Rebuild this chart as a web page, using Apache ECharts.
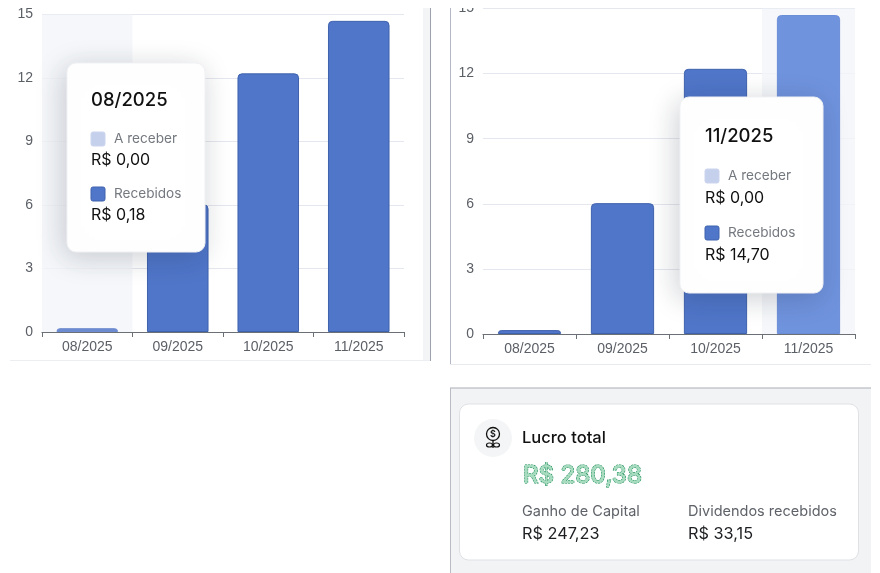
<!DOCTYPE html>
<html>
<head>
<meta charset="utf-8">
<style>html,body{margin:0;padding:0;background:#fff}#main{width:880px;height:573px}</style>
<script src="https://cdn.jsdelivr.net/npm/echarts@6/dist/echarts.min.js"></script>
</head>
<body>
<div id="main"></div>
<script>
// Monthly dividends, shown twice with a different month highlighted
const months = ['08/2025', '09/2025', '10/2025', '11/2025'];
const pending = [0, 0, 0, 0];
const received = [0.18, 6.03, 12.22, 14.7];
const yTicks = { min: 0, max: 15, interval: 3 };
const activeLeft = 0;
const activeRight = 3;

// Profit summary card
const profitTotal = 280.38;
const capitalGain = 247.23;
const dividends = 33.15;

const FONT = 'Inter, "Noto Sans", sans-serif';
const AXIS_FONT = '"Liberation Sans", Arial, sans-serif';
const BLUE = '#5076c9';
const BLUE_EDGE = '#3f62ad';
const PALE = '#c5d0ec';
const brl = v => 'R$ ' + v.toFixed(2).replace('.', ',');

function axes(idx) {
  return {
    x: {
      type: 'category', gridIndex: idx, data: months,
      axisLine: { lineStyle: { color: '#6b6f76', width: 1.2 } },
      axisTick: { show: true, length: 5, alignWithLabel: false, lineStyle: { color: '#6b6f76' } },
      axisLabel: { color: '#5b5f66', fontFamily: AXIS_FONT, fontSize: 14, margin: 8 },
      splitLine: { show: false }
    },
    y: {
      type: 'value', gridIndex: idx, min: yTicks.min, max: yTicks.max, interval: yTicks.interval,
      axisLine: { show: false }, axisTick: { show: false },
      axisLabel: { color: '#5b5f66', fontFamily: AXIS_FONT, fontSize: 14, margin: 9 },
      splitLine: { lineStyle: { color: '#e5e7ee', width: 1.2 } }
    }
  };
}

function seriesFor(idx, active, activeColor, activeEdge) {
  return [
    {
      // Full-width column behind the hovered month
      type: 'custom', name: 'destaque', xAxisIndex: idx, yAxisIndex: idx, silent: true, z: 1,
      data: months.map((m, i) => (i === active ? [i, yTicks.max] : [i, null])),
      encode: { x: 0, y: 1 },
      renderItem(params, api) {
        const v = api.value(1);
        if (v === null || isNaN(v)) return null;
        const top = api.coord([api.value(0), v]);
        const base = api.coord([api.value(0), yTicks.min]);
        const w = api.size([1, 0])[0];
        return {
          type: 'rect',
          shape: { x: top[0] - w / 2, y: top[1], width: w, height: base[1] - top[1] },
          style: { fill: 'rgba(243,245,249,0.8)' }
        };
      }
    },
    {
      type: 'bar', name: 'A receber', stack: 's' + idx, xAxisIndex: idx, yAxisIndex: idx,
      barWidth: '68%', z: 2, itemStyle: { color: PALE }, data: pending
    },
    {
      type: 'bar', name: 'Recebidos', stack: 's' + idx, xAxisIndex: idx, yAxisIndex: idx,
      barWidth: '68%', z: 2,
      data: received.map((v, i) => ({
        value: v,
        itemStyle: {
          color: i === active ? activeColor : BLUE,
          borderColor: i === active ? activeEdge : BLUE_EDGE,
          borderWidth: 1,
          borderRadius: [4, 4, 0, 0]
        }
      }))
    }
  ];
}

function label(x, y, text, size, fill, weight) {
  return {
    type: 'text', z: 101, x, y,
    style: { text, fill, fontFamily: FONT, fontSize: size, fontWeight: weight || 400, textVerticalAlign: 'middle' }
  };
}

// Floating month detail box
function detailBox(b, i) {
  const swatch = (y, color, edge) => ({
    type: 'rect', z: 101, shape: { x: b.tx, y, width: 14, height: 14, r: 2 },
    style: { fill: color, stroke: edge, lineWidth: 1 }
  });
  return [
    {
      type: 'rect', z: 100, shape: { x: b.x, y: b.y, width: b.w, height: b.h, r: 9 },
      style: { fill: '#fff', stroke: '#f0f1f4', lineWidth: 1, shadowBlur: 28, shadowColor: 'rgba(30,40,60,0.22)', shadowOffsetX: -3, shadowOffsetY: 5 }
    },
    label(b.tx, b.y + b.title, months[i], 18.5, '#111', 500),
    swatch(b.y + b.s1, PALE, '#ccd5ee'),
    label(b.tx + 23, b.y + b.s1 + 7, 'A receber', 13.6, '#74787f'),
    label(b.tx, b.y + b.v1, brl(pending[i]), 16, '#111'),
    swatch(b.y + b.s2, BLUE, BLUE_EDGE),
    label(b.tx + 23, b.y + b.s2 + 7, 'Recebidos', 13.6, '#74787f'),
    label(b.tx, b.y + b.v2, brl(received[i]), 16, '#111')
  ];
}

function rule(x1, y1, x2, y2, color, w) {
  return { type: 'line', z: 60, shape: { x1, y1, x2, y2 }, style: { stroke: color, lineWidth: w || 1 } };
}

const frame = [
  // Clips the top of the second chart
  { type: 'rect', z: 50, shape: { x: 436, y: 0, width: 444, height: 8 }, style: { fill: '#fff' } },
  rule(10, 360.5, 430, 360.5, '#eceef1', 1),
  { type: 'rect', z: 50, shape: { x: 423, y: 8, width: 7, height: 353 }, style: { fill: '#f3f4f6' } },
  rule(430.5, 8, 430.5, 361, '#9ea2ac', 1),
  rule(450.5, 8, 450.5, 365, '#b4b7c6', 1),
  rule(450, 364.5, 871, 364.5, '#e8eaee', 1)
];

const card = [
  { type: 'rect', z: 50, shape: { x: 450, y: 388, width: 421, height: 185 }, style: { fill: '#f1f3f5' } },
  rule(450, 388, 871, 388, '#a9adb5', 1),
  rule(450.5, 388, 450.5, 573, '#b9bcc4', 1),
  { type: 'rect', z: 51, shape: { x: 459.5, y: 404, width: 399, height: 156, r: 9 }, style: { fill: '#fff', stroke: '#dfe1e5', lineWidth: 1 } },
  // Coin with a sprout
  { type: 'circle', z: 52, shape: { cx: 493, cy: 438, r: 19 }, style: { fill: '#f4f5f6' } },
  { type: 'circle', z: 53, shape: { cx: 493, cy: 434, r: 6.5 }, style: { fill: 'none', stroke: '#111', lineWidth: 1.3 } },
  { type: 'text', z: 53, x: 493, y: 434, style: { text: '$', fill: '#111', fontFamily: FONT, fontSize: 9, fontWeight: 600, textAlign: 'center', textVerticalAlign: 'middle' } },
  rule(493, 440.5, 493, 448, '#111', 1.3),
  { type: 'ellipse', z: 53, shape: { cx: 489.5, cy: 445, rx: 3, ry: 2 }, style: { fill: 'none', stroke: '#111', lineWidth: 1.2 } },
  { type: 'ellipse', z: 53, shape: { cx: 496.5, cy: 445, rx: 3, ry: 2 }, style: { fill: 'none', stroke: '#111', lineWidth: 1.2 } },
  { type: 'text', z: 53, x: 522, y: 438, style: { text: 'Lucro total', fill: '#111', fontFamily: FONT, fontSize: 16.5, fontWeight: 500, textVerticalAlign: 'middle' } },
  { type: 'text', z: 53, x: 523, y: 476, style: { text: brl(profitTotal), fill: '#a8dcc1', stroke: '#13894f', lineWidth: 1.1, lineDash: [2.2, 0.7], fontFamily: FONT, fontSize: 24, fontWeight: 500, textVerticalAlign: 'middle' } },
  { type: 'text', z: 53, x: 522, y: 512, style: { text: 'Ganho de Capital', fill: '#5f6369', fontFamily: FONT, fontSize: 14.5, textVerticalAlign: 'middle' } },
  { type: 'text', z: 53, x: 522, y: 534, style: { text: brl(capitalGain), fill: '#1d1f22', fontFamily: FONT, fontSize: 16.3, textVerticalAlign: 'middle' } },
  { type: 'text', z: 53, x: 688, y: 512, style: { text: 'Dividendos recebidos', fill: '#5f6369', fontFamily: FONT, fontSize: 14.5, textVerticalAlign: 'middle' } },
  { type: 'text', z: 53, x: 688, y: 534, style: { text: brl(dividends), fill: '#1d1f22', fontFamily: FONT, fontSize: 16.3, textVerticalAlign: 'middle' } }
];

const boxes = [
  ...detailBox({ x: 67, y: 63, w: 138, h: 189, tx: 91, title: 37, s1: 69, v1: 97, s2: 124, v2: 152 }, activeLeft),
  ...detailBox({ x: 680, y: 97, w: 143, h: 196, tx: 705, title: 39, s1: 72, v1: 101, s2: 129, v2: 158 }, activeRight)
];

const a0 = axes(0), a1 = axes(1);
const chart = echarts.init(document.getElementById('main'), null, { renderer: 'canvas' });
chart.setOption({
  animation: false,
  backgroundColor: '#fff',
  grid: [
    { left: 42, top: 14.5, width: 362, height: 317.5 },
    { left: 483, top: 8.5, width: 372, height: 325.5 }
  ],
  xAxis: [a0.x, a1.x],
  yAxis: [a0.y, a1.y],
  series: [
    ...seriesFor(0, activeLeft, '#6d8bd0', '#6d8bd0'),
    ...seriesFor(1, activeRight, '#7093de', '#6b8ed8')
  ],
  graphic: { elements: [...frame, ...card, ...boxes] }
});
</script>
</body>
</html>
